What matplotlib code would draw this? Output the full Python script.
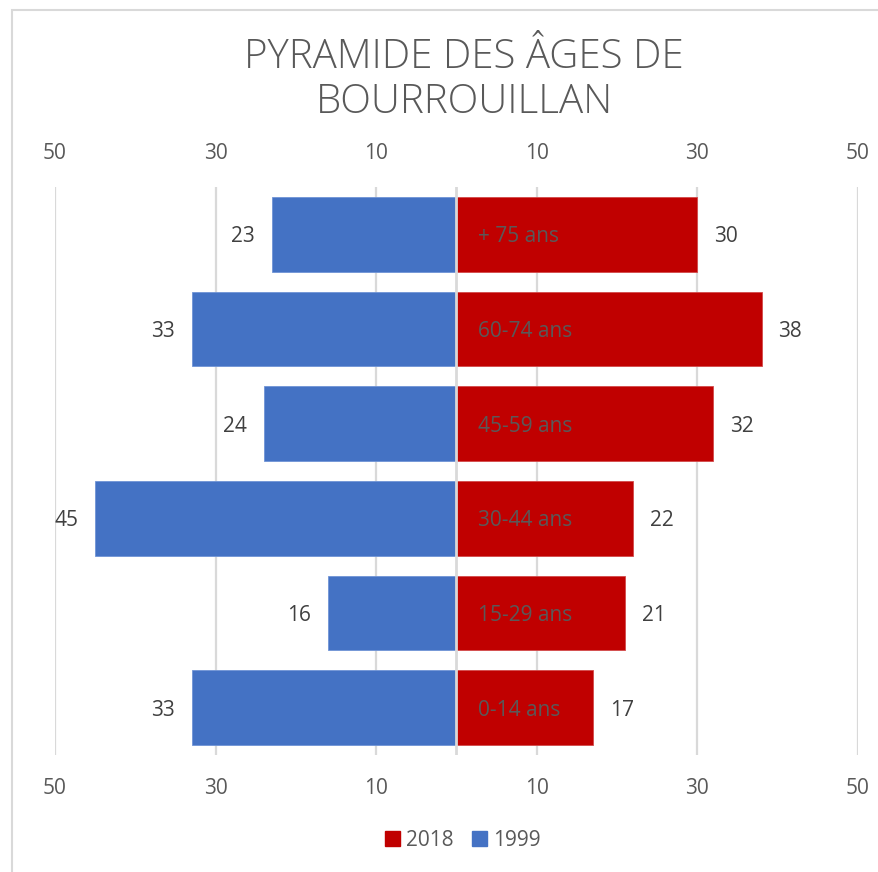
import matplotlib.pyplot as plt
from matplotlib.patches import Rectangle

# age groups, bottom to top
groups = ['0-14 ans', '15-29 ans', '30-44 ans', '45-59 ans', '60-74 ans', '+ 75 ans']
pop_1999 = [33, 16, 45, 24, 33, 23]
pop_2018 = [17, 21, 22, 32, 38, 30]
ticks = [-50, -30, -10, 10, 30, 50]

blue = '#4472c4'
red = '#c00000'
grey_txt = '#595959'
dark_txt = '#404040'
grid_col = '#d9d9d9'

plt.rcParams['font.family'] = ['Open Sans', 'DejaVu Sans']

fig = plt.figure(figsize=(8.79, 8.72), dpi=100)
ax = fig.add_axes([55/879, 1-755/872, 803/879, 568/872])

y = list(range(len(groups)))
h = 0.79
ax.barh(y, [-v for v in pop_1999], height=h, color=blue, edgecolor='#6f94d6', lw=0.6, zorder=3)
ax.barh(y, pop_2018, height=h, color=red, edgecolor='#d24a4a', lw=0.6, zorder=3)

for t in ticks:
    ax.axvline(t, color=grid_col, lw=1.6, zorder=1)
ax.axvline(0, color=grid_col, lw=2.0, zorder=4)

ax.set_xlim(-50, 50)
ax.set_ylim(-0.5, len(groups) - 0.5)
ax.set_xticks(ticks)
ax.set_xticklabels([str(abs(t)) for t in ticks])
ax.tick_params(axis='x', labeltop=True, top=False, bottom=False, pad=13,
               labelsize=15, labelcolor=grey_txt)
ax.set_yticks([])
for s in ax.spines.values():
    s.set_visible(False)

# value labels and group names
for i, g in enumerate(groups):
    ax.annotate(str(pop_1999[i]), (-pop_1999[i], i), xytext=(-12, 0), textcoords='offset points',
                ha='right', va='center_baseline', fontsize=15, color=dark_txt)
    ax.annotate(str(pop_2018[i]), (pop_2018[i], i), xytext=(12, 0), textcoords='offset points',
                ha='left', va='center_baseline', fontsize=15, color=dark_txt)
    ax.text(2.7, i, g, ha='left', va='center_baseline', fontsize=15, color=grey_txt, zorder=5)

fig.text(464/879, 1-80/872, 'PYRAMIDE DES ÂGES DE\nBOURROUILLAN', ha='center', va='center',
         fontsize=29, color=grey_txt, fontweight='light', linespacing=1.12)

handles = [Rectangle((0, 0), 1, 1, color=red), Rectangle((0, 0), 1, 1, color=blue)]
fig.legend(handles, ['2018', '1999'], loc='center', bbox_to_anchor=(463/879, 1-840/872),
           ncol=2, frameon=False, fontsize=15, labelcolor=grey_txt,
           handlelength=0.7, handleheight=0.7, handletextpad=0.3, columnspacing=0.9)

fig.patches.append(Rectangle((12/879, -0.1), 1.2, 1-10/872+0.1, transform=fig.transFigure,
                             fill=False, edgecolor=grid_col, lw=1.5))

fig.savefig('out.png', dpi=100)
